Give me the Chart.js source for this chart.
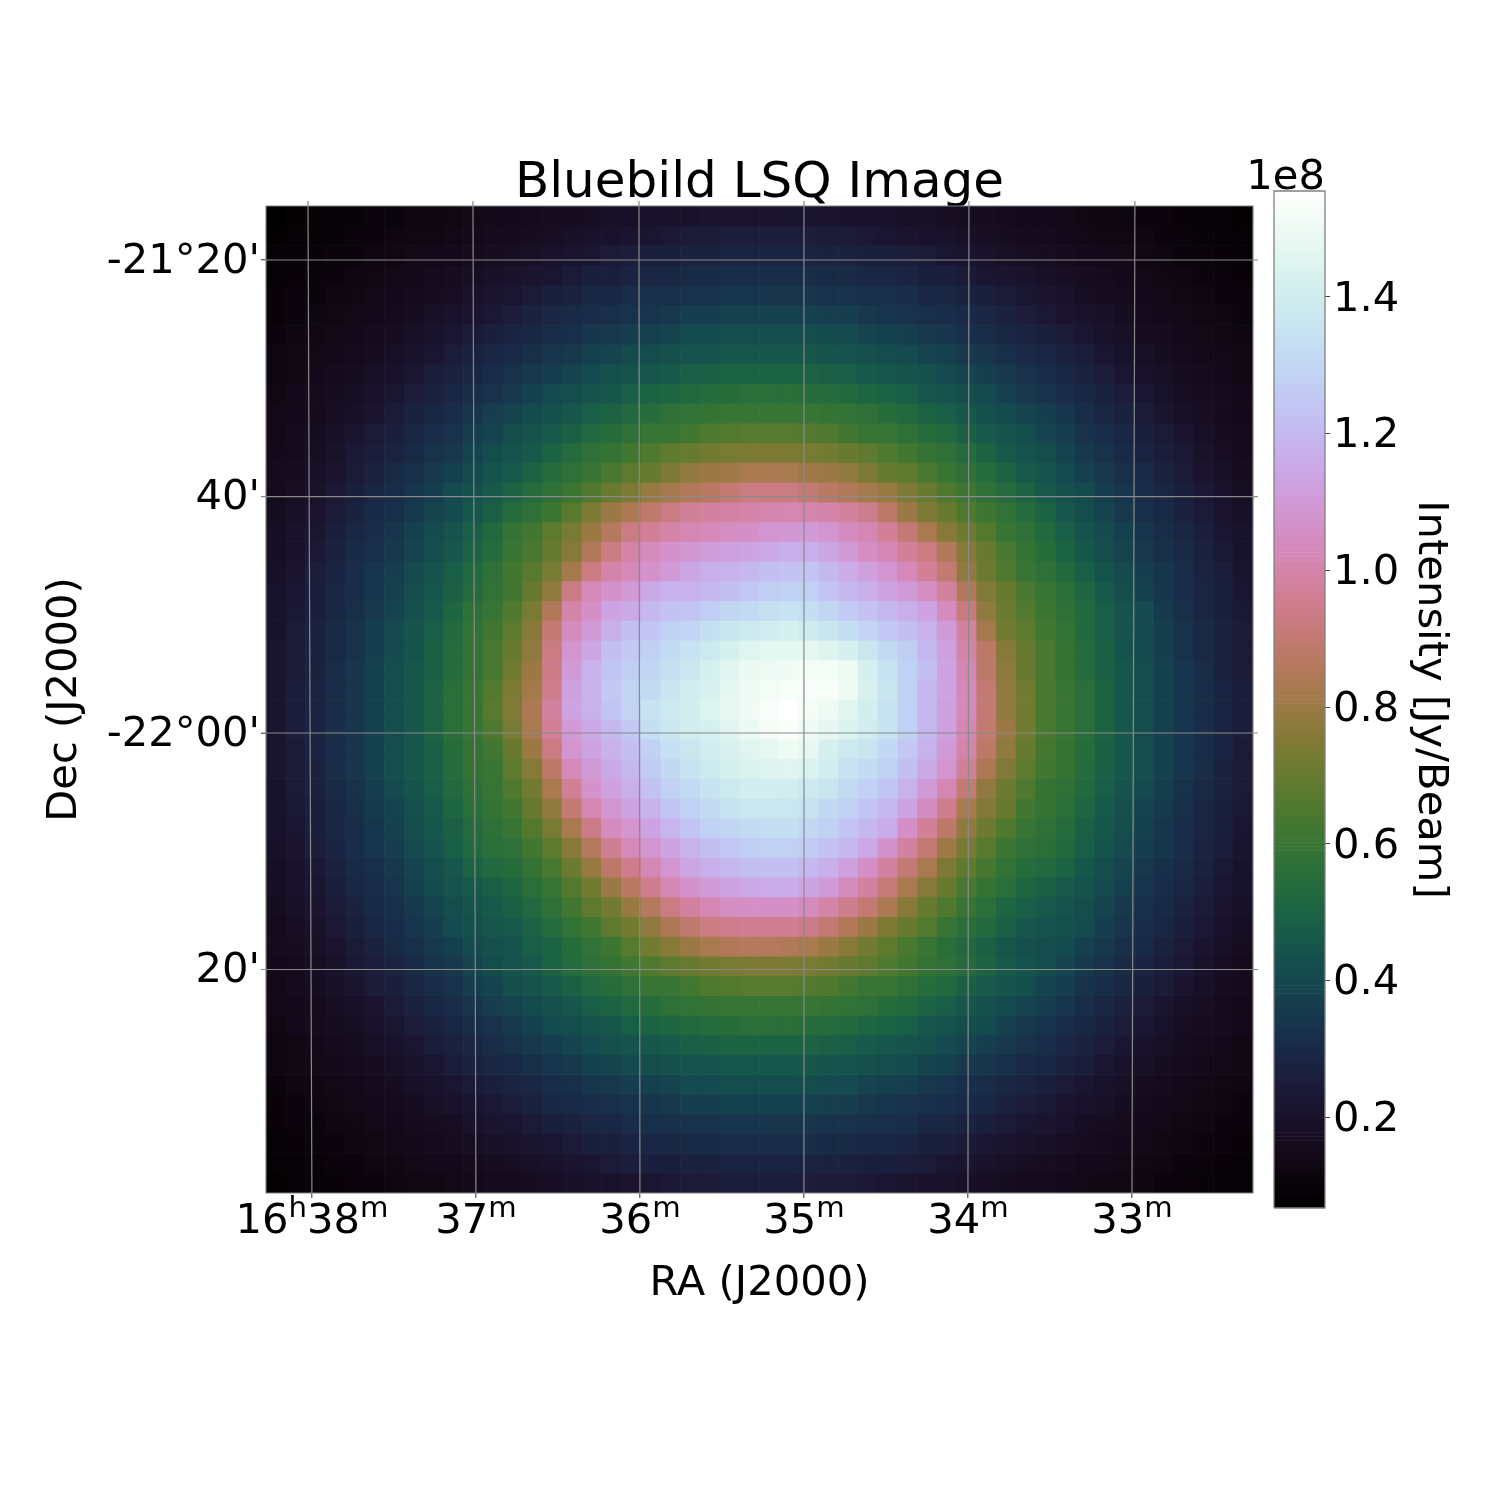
<!DOCTYPE html>
<html><head><meta charset="utf-8">
<script src="https://cdn.jsdelivr.net/npm/chart.js@4"></script>
<style>html,body{margin:0;padding:0;background:#fff}canvas{position:absolute;left:0;top:0}</style>
</head><body>
<canvas id="map" width="1495" height="1495"></canvas>
<canvas id="bar" width="1495" height="1495"></canvas>
<script>
const chartTitle = "Bluebild LSQ Image";
const raTitle = "RA (J2000)";
const decTitle = "Dec (J2000)";
const barTitle = "Intensity [Jy/Beam]";
const barOffset = "1e8";
const raTicks = [38, 37, 36, 35, 34, 33];
const raTicksAtTop = [38.024, 37.018, 36.006, 35, 33.994, 32.982];
const raLabelParts = [["16", "h", "38", "m"], ["37", "m"], ["36", "m"], ["35", "m"], ["34", "m"], ["33", "m"]];
const decTicks = [-21.3333, -21.6667, -22, -22.3333];
const decLabels = ["-21°20'", "40'", "-22°00'", "20'"];
const barTicks = [0.2, 0.4, 0.6, 0.8, 1.0, 1.2, 1.4];
// intensity, units of 1e6 Jy/Beam, rows top to bottom, columns left to right
const intensityRows = [
[7,8,9,9,10,11,11,12,12,13,14,15,15,16,17,17,18,19,19,20,20,20,21,21,21,21,21,21,21,20,20,20,19,19,18,17,17,16,15,15,14,13,12,12,11,11,10,9,9,8],
[8,9,9,10,11,11,12,13,13,14,15,16,16,17,18,19,20,20,21,22,23,24,24,25,25,25,25,25,24,24,23,22,21,20,20,19,18,17,16,16,15,14,13,13,12,11,11,10,9,9],
[9,9,10,11,11,12,13,14,15,15,16,17,18,19,20,21,22,24,25,26,26,27,27,28,28,28,28,28,27,27,26,26,25,24,22,21,20,19,18,17,16,15,15,14,13,12,11,11,10,9],
[9,10,11,11,12,13,14,15,16,17,18,19,20,21,22,24,26,26,28,29,29,30,30,31,31,31,31,31,30,30,29,29,28,26,26,24,22,21,20,19,18,17,16,15,14,13,12,11,11,10],
[10,11,11,12,13,14,15,16,17,18,20,21,22,24,26,27,29,29,31,32,32,33,33,34,34,34,34,34,33,33,32,32,31,29,29,27,26,24,22,21,20,18,17,16,15,14,13,12,11,11],
[10,11,12,13,14,15,16,17,19,20,21,23,25,27,29,30,31,32,33,34,35,37,37,38,38,38,38,38,37,37,35,34,33,32,31,30,29,27,25,23,21,20,19,17,16,15,14,13,12,11],
[11,12,13,14,15,16,17,19,20,22,24,26,28,29,31,32,34,35,37,38,39,41,41,42,42,42,42,42,41,41,39,38,37,35,34,32,31,29,28,26,24,22,20,19,17,16,15,14,13,12],
[12,13,14,15,16,17,19,20,22,25,27,29,30,32,34,35,38,39,41,42,43,44,44,45,45,45,45,45,44,44,43,42,41,39,38,35,34,32,30,29,27,25,22,20,19,17,16,15,14,13],
[12,13,15,16,17,19,20,22,25,27,29,31,33,35,37,39,41,43,44,45,46,48,49,50,50,50,50,50,49,48,46,45,44,43,41,39,37,35,33,31,29,27,25,22,20,19,17,16,15,13],
[13,15,16,17,18,20,22,25,27,29,31,33,35,38,41,42,44,45,48,50,51,53,54,55,56,56,56,55,54,53,51,50,48,45,44,42,41,38,35,33,31,29,27,25,22,20,18,17,16,15],
[14,15,16,18,19,21,24,27,29,31,34,37,39,41,43,45,48,50,53,55,57,58,59,60,60,60,60,60,59,58,57,55,53,50,48,45,43,41,39,37,34,31,29,27,24,21,19,18,16,15],
[14,16,17,19,21,24,26,29,31,33,37,39,42,44,46,49,53,55,57,60,60,62,65,66,67,67,67,66,65,62,60,60,57,55,53,49,46,44,42,39,37,33,31,29,26,24,21,19,17,16],
[15,16,18,20,23,25,28,30,33,35,39,42,44,46,50,54,57,59,62,65,68,70,72,73,74,74,74,73,72,70,68,65,62,59,57,54,50,46,44,42,39,35,33,30,28,25,23,20,18,16],
[16,17,19,21,24,27,30,32,35,38,41,44,46,50,54,57,60,64,68,70,74,78,80,81,83,83,83,81,80,78,74,70,68,64,60,57,54,50,46,44,41,38,35,32,30,27,24,21,19,17],
[16,18,20,23,26,29,31,34,37,41,43,46,50,54,57,61,65,70,74,79,82,85,87,90,93,93,93,90,87,85,82,79,74,70,65,61,57,54,50,46,43,41,37,34,31,29,26,23,20,18],
[17,19,21,24,27,30,32,35,39,41,45,49,54,57,61,67,74,80,84,89,93,97,98,99,100,101,102,101,100,98,95,88,80,74,70,65,61,58,54,50,45,42,39,35,32,30,27,24,21,19],
[18,20,22,26,29,31,34,38,41,44,48,53,59,62,68,73,80,86,93,97,100,102,103,105,106,108,109,110,108,104,102,97,90,83,76,71,66,60,57,53,48,44,41,38,34,31,29,26,22,20],
[18,20,23,27,30,32,35,39,42,45,50,55,60,64,70,76,85,93,100,104,107,109,111,112,113,115,117,117,114,110,105,102,97,93,85,76,70,64,59,55,50,45,42,39,35,32,30,27,23,20],
[19,21,25,28,31,34,37,41,44,48,53,57,62,67,73,82,93,100,103,107,110,114,117,118,120,122,123,124,120,116,112,108,103,97,90,78,71,65,60,57,53,48,44,41,37,34,31,28,25,21],
[20,22,26,29,31,34,38,42,45,49,54,58,62,70,78,93,103,107,110,115,118,118,120,122,125,127,128,128,124,120,117,113,110,105,98,85,75,70,64,60,56,51,46,42,38,34,31,29,26,22],
[20,23,26,29,32,35,39,43,46,51,57,60,65,73,85,100,106,113,115,120,123,124,127,130,132,134,135,133,130,126,123,120,117,113,104,92,78,71,66,61,57,53,48,44,41,36,32,29,26,23],
[20,24,27,30,33,37,41,44,48,53,58,62,68,76,90,104,110,117,122,124,128,130,133,136,138,140,142,139,136,133,129,125,122,118,110,98,82,72,68,62,58,53,48,44,41,37,33,30,27,24],
[21,24,27,30,33,37,41,44,49,54,59,64,70,78,93,108,114,122,125,128,132,135,138,142,146,147,147,147,145,142,137,132,127,120,112,100,88,76,70,64,59,54,49,44,41,37,33,30,27,24],
[21,24,27,31,34,38,42,45,49,54,59,64,72,80,94,110,118,124,127,130,134,137,142,146,149,150,151,152,152,150,142,135,128,122,113,102,88,77,70,64,59,54,49,45,42,38,34,31,27,24],
[21,25,28,31,34,38,42,45,50,56,60,66,74,82,95,112,118,125,130,132,136,140,143,147,150,152,153,153,153,150,143,136,128,120,113,103,90,78,72,64,60,56,50,45,42,38,34,31,28,25],
[21,25,28,31,34,38,42,45,50,56,60,67,75,84,98,113,118,124,129,135,138,141,145,148,151,153,155,152,150,146,141,135,128,120,112,103,90,78,72,64,60,56,50,45,42,38,34,31,28,25],
[21,25,28,31,34,38,42,45,50,56,60,65,73,83,97,110,115,120,125,133,137,140,142,146,149,152,154,150,147,144,140,135,128,120,112,102,90,80,72,64,60,56,50,45,42,38,34,31,28,25],
[21,24,28,31,34,38,42,45,49,55,59,62,70,80,93,108,113,118,122,128,134,137,140,143,146,148,150,148,142,138,136,131,125,118,110,100,88,78,70,63,59,55,49,45,42,38,34,31,28,24],
[21,24,27,31,34,38,42,45,49,54,59,60,68,76,88,103,110,115,120,126,131,135,138,142,144,145,146,144,140,135,132,128,122,115,108,97,84,75,68,62,59,54,49,45,42,38,34,31,27,24],
[20,24,27,30,33,37,41,44,48,53,57,60,65,72,83,97,107,112,117,123,128,132,135,138,141,141,140,138,136,132,128,124,118,110,102,90,78,71,65,59,57,53,48,44,41,37,33,30,27,24],
[20,23,26,29,32,36,39,43,46,51,56,59,62,70,78,90,102,108,113,118,124,128,132,135,137,137,137,135,131,128,124,120,113,104,95,83,75,70,62,59,56,51,46,43,39,36,32,29,26,23],
[20,22,26,29,31,34,38,42,45,49,54,57,60,66,73,83,94,104,108,113,119,124,128,130,132,133,133,131,128,124,120,116,106,97,88,78,71,65,60,57,54,49,45,42,38,34,31,29,26,22],
[19,21,25,28,31,34,37,41,44,48,53,56,57,62,68,76,86,96,103,108,113,118,122,125,127,128,128,126,123,120,115,107,98,90,81,73,67,61,57,56,53,48,44,41,37,34,31,28,25,21],
[18,20,23,27,30,32,35,39,42,45,50,53,55,59,64,71,79,88,95,102,108,114,117,120,122,122,122,120,117,112,106,98,90,83,74,68,63,58,55,53,50,45,42,39,35,32,30,27,23,20],
[18,20,22,26,29,31,34,38,41,44,46,49,51,56,60,66,72,80,87,95,102,107,110,113,115,116,116,113,110,104,98,91,83,76,70,64,59,56,51,49,46,44,41,38,34,31,29,26,22,20],
[17,19,21,24,27,30,32,35,39,42,44,46,49,53,57,62,68,72,79,86,93,98,102,105,106,106,106,104,100,95,90,84,76,70,65,60,56,51,48,46,44,42,39,35,32,30,27,24,21,19],
[16,18,20,23,26,29,31,34,37,41,43,45,46,50,54,58,62,68,72,78,84,89,93,95,96,96,96,94,90,85,80,74,70,66,60,56,53,49,45,44,43,41,37,34,31,29,26,23,20,18],
[16,17,19,21,24,27,30,32,35,38,41,43,44,48,50,55,58,61,67,72,76,80,83,85,86,86,85,83,80,76,72,68,64,60,56,53,49,45,43,42,41,38,35,32,30,27,24,21,19,17],
[15,16,18,20,23,25,28,30,33,35,39,42,44,46,50,54,57,59,62,65,68,70,72,73,74,74,74,73,72,70,68,65,62,59,57,54,50,46,44,42,39,35,33,30,28,25,23,20,18,16],
[14,16,17,19,21,24,26,29,31,33,37,39,42,44,46,49,53,55,57,60,60,62,65,66,67,67,67,66,65,62,60,60,57,55,53,49,46,44,42,39,37,33,31,29,26,24,21,19,17,16],
[14,15,16,18,19,21,24,27,29,31,34,37,39,41,43,45,48,50,53,55,57,58,59,60,60,60,60,60,59,58,57,55,53,50,48,45,43,41,39,37,34,31,29,27,24,21,19,18,16,15],
[13,15,16,17,18,20,22,25,27,29,31,33,35,38,41,42,44,45,48,50,51,53,54,55,56,56,56,55,54,53,51,50,48,45,44,42,41,38,35,33,31,29,27,25,22,20,18,17,16,15],
[12,13,15,16,17,19,20,22,25,27,29,31,33,35,37,39,41,43,44,45,46,48,49,50,50,50,50,50,49,48,46,45,44,43,41,39,37,35,33,31,29,27,25,22,20,19,17,16,15,13],
[12,13,14,15,16,17,19,20,22,25,27,29,30,32,34,35,38,39,41,42,43,44,44,45,45,45,45,45,44,44,43,42,41,39,38,35,34,32,30,29,27,25,22,20,19,17,16,15,14,13],
[11,12,13,14,15,16,17,19,20,22,24,26,28,29,31,32,34,35,37,38,39,41,41,42,42,42,42,42,41,41,39,38,37,35,34,32,31,29,28,26,24,22,20,19,17,16,15,14,13,12],
[10,11,12,13,14,15,16,17,19,20,21,23,25,27,29,30,31,32,33,34,35,37,37,38,38,38,38,38,37,37,35,34,33,32,31,30,29,27,25,23,21,20,19,17,16,15,14,13,12,11],
[10,11,11,12,13,14,15,16,17,18,20,21,22,24,26,27,29,29,31,32,32,33,33,34,34,34,34,34,33,33,32,32,31,29,29,27,26,24,22,21,20,18,17,16,15,14,13,12,11,11],
[9,10,11,11,12,13,14,15,16,17,18,19,20,21,22,24,26,26,28,29,29,30,30,31,31,31,31,31,30,30,29,29,28,26,26,24,22,21,20,19,18,17,16,15,14,13,12,11,11,10],
[9,9,10,11,11,12,13,14,15,15,16,17,18,19,20,21,22,24,25,26,26,27,27,28,28,28,28,28,27,27,26,26,25,24,22,21,20,19,18,17,16,15,15,14,13,12,11,11,10,9],
[8,9,9,10,11,11,12,13,13,14,15,16,16,17,18,19,20,20,21,22,23,24,24,25,25,25,25,25,24,24,23,22,21,20,20,19,18,17,16,16,15,14,13,13,12,11,11,10,9,9]
];
const colourMin = 6.7, colourMax = 155.5;

// matplotlib's cubehelix colour map
function cubehelix(f) {
  f = Math.max(0, Math.min(1, f));
  const a = f * (1 - f) / 2, phi = 2 * Math.PI * (0.5 / 3 - 1.5 * f);
  const c = Math.cos(phi), s = Math.sin(phi);
  const ch = (p, q) => Math.round(255 * Math.max(0, Math.min(1, f + a * (p * c + q * s))));
  return `rgb(${ch(-0.14861, 1.78277)},${ch(-0.29227, -0.90649)},${ch(1.97294, 0)})`;
}
const FONT = "'DejaVu Sans'";
const tickFont = { family: FONT, size: 41.67 };
const labelFont = { family: FONT, size: 41.67, lineHeight: 1 };
const gridColor = "#8a8a8a";
const frameColor = "#808080";
const base = { responsive: false, animation: false, events: [], devicePixelRatio: 1 };
const off = { legend: { display: false }, tooltip: { enabled: false } };

const columns = intensityRows[0].map((_, i) => i);
const cellSets = intensityRows.map((row, j) => ({
  type: "bar", xAxisID: "cx", yAxisID: "cy", order: 5, grouped: false,
  barPercentage: 1, categoryPercentage: 1, borderWidth: 0,
  data: row.map(() => [j, j + 1]),
  backgroundColor: row.map(v => cubehelix((v - colourMin) / (colourMax - colourMin)))
}));
const RA_L = 38.280, RA_R = 32.262, DEC_T = -21.2572, DEC_B = -22.6483;
const RA_LX = 38.31, RA_RX = 32.232, DEC_TX = -21.2500, DEC_BX = -22.6555;
const lineStyle = { type: "line", xAxisID: "ra", yAxisID: "dec", order: 1, borderColor: gridColor, borderWidth: 1.2, pointRadius: 0, fill: false, tension: 0, clip: false };
const raSets = raTicks.map((v, k) => Object.assign({}, lineStyle, { data: [{ x: raTicksAtTop[k], y: DEC_TX }, { x: v, y: DEC_BX }] }));
const decSets = decTicks.map(v => Object.assign({}, lineStyle, { data: [{ x: RA_LX, y: v }, { x: RA_RX, y: v }] }));
const frameSet = Object.assign({}, lineStyle, { borderColor: frameColor, data: [{ x: RA_L, y: DEC_T }, { x: RA_R, y: DEC_T }, { x: RA_R, y: DEC_B }, { x: RA_L, y: DEC_B }, { x: RA_L, y: DEC_T }] });

// RA tick labels carry superscript h and m, so they are set piece by piece at the axis' own tick pixels
const raLabelPlugin = {
  id: "raLabels",
  afterDraw(chart) {
    const ctx = chart.ctx, scale = chart.scales.ra;
    const big = `41.67px ${FONT}`, small = `29.2px ${FONT}`;
    ctx.save();
    ctx.fillStyle = "#000";
    ctx.textAlign = "left";
    ctx.textBaseline = "alphabetic";
    raLabelParts.forEach((parts, k) => {
      const widths = parts.map((p, n) => { ctx.font = n % 2 ? small : big; return ctx.measureText(p).width; });
      let x = scale.getPixelForValue(raTicks[k]) - widths.reduce((a, b) => a + b, 0) / 2;
      const y = scale.top + 40;
      parts.forEach((p, n) => {
        ctx.font = n % 2 ? small : big;
        ctx.fillText(p, x, n % 2 ? y - 16 : y);
        x += widths[n];
      });
    });
    ctx.restore();
  }
};

new Chart(document.getElementById("map"), {
  data: { labels: columns, datasets: [...raSets, ...decSets, frameSet, ...cellSets] },
  plugins: [raLabelPlugin],
  options: Object.assign({}, base, {
    layout: { padding: { left: 44, right: 242, bottom: 188, top: 0 } },
    plugins: Object.assign({}, off, {
      title: { display: true, text: chartTitle, fullSize: false, color: "#000", font: { family: FONT, size: 50, weight: "normal", lineHeight: 1 }, padding: { top: 159, bottom: -3 } }
    }),
    scales: {
      cx: { type: "category", display: false, offset: true },
      cy: { type: "linear", display: false, reverse: true, min: 0, max: intensityRows.length },
      ra: {
        type: "linear", position: "bottom", reverse: true, min: RA_R, max: RA_L,
        afterBuildTicks: s => { s.ticks = raTicks.map(value => ({ value })); },
        afterFit: s => { s.height = 114; },
        ticks: { display: false },
        grid: { drawOnChartArea: false, tickLength: 5, color: "#444" }, border: { display: false },
        title: { display: true, text: raTitle, color: "#000", font: labelFont, padding: { top: 0, bottom: 2 } }
      },
      dec: {
        type: "linear", position: "left", min: DEC_B, max: DEC_T,
        afterBuildTicks: s => { s.ticks = decTicks.map(value => ({ value })); },
        afterFit: s => { s.width = 222; },
        ticks: { autoSkip: false, maxRotation: 0, color: "#000", font: tickFont, padding: 1, labelOffset: 2, callback: v => decLabels[decTicks.indexOf(v)] },
        grid: { drawOnChartArea: false, tickLength: 5, color: "#444" }, border: { display: false },
        title: { display: true, text: decTitle, color: "#000", font: labelFont, padding: { top: 0, bottom: 0 } }
      }
    }
  })
});

// colour bar
const BAR_MIN = colourMin / 100, BAR_MAX = colourMax / 100, LEVELS = 256;
const levelSets = Array.from({ length: LEVELS }, (_, k) => ({
  type: "bar", xAxisID: "x", yAxisID: "y", order: 5, grouped: false,
  barPercentage: 1, categoryPercentage: 1, borderWidth: 0,
  data: [[BAR_MIN + (BAR_MAX - BAR_MIN) * k / LEVELS, BAR_MIN + (BAR_MAX - BAR_MIN) * (k + 1) / LEVELS]],
  backgroundColor: cubehelix((k + 0.5) / LEVELS)
}));
const barFrame = { type: "line", xAxisID: "fx", yAxisID: "y", order: 1, borderColor: frameColor, borderWidth: 1.3, pointRadius: 0, tension: 0, clip: false,
  data: [{ x: 0, y: BAR_MIN }, { x: 1, y: BAR_MIN }, { x: 1, y: BAR_MAX }, { x: 0, y: BAR_MAX }, { x: 0, y: BAR_MIN }] };
const offsetPlugin = {
  id: "barOffset",
  afterDraw(chart) {
    const ctx = chart.ctx, area = chart.chartArea;
    ctx.save();
    ctx.fillStyle = "#000";
    ctx.font = `41.67px ${FONT}`;
    ctx.textAlign = "right";
    ctx.textBaseline = "alphabetic";
    ctx.fillText(barOffset, area.right, area.top - 2);
    ctx.restore();
  }
};

new Chart(document.getElementById("bar"), {
  data: { labels: [""], datasets: [barFrame, ...levelSets] },
  plugins: [offsetPlugin],
  options: Object.assign({}, base, {
    layout: { padding: { left: 1274, right: 44, bottom: 287, top: 191 } },
    plugins: off,
    scales: {
      x: { type: "category", display: false, offset: true },
      fx: { type: "linear", display: false, min: 0, max: 1 },
      y: {
        type: "linear", position: "right", min: BAR_MIN, max: BAR_MAX,
        afterBuildTicks: s => { s.ticks = barTicks.map(value => ({ value })); },
        afterFit: s => { s.width = 126; },
        ticks: { autoSkip: false, color: "#000", font: tickFont, padding: 3, labelOffset: 3, callback: v => v.toFixed(1) },
        grid: { drawOnChartArea: false, tickLength: 5, color: "#444" }, border: { display: false },
        title: { display: true, text: barTitle, color: "#000", font: labelFont, padding: { top: 0, bottom: 0 } }
      }
    }
  })
});
</script>
</body></html>
